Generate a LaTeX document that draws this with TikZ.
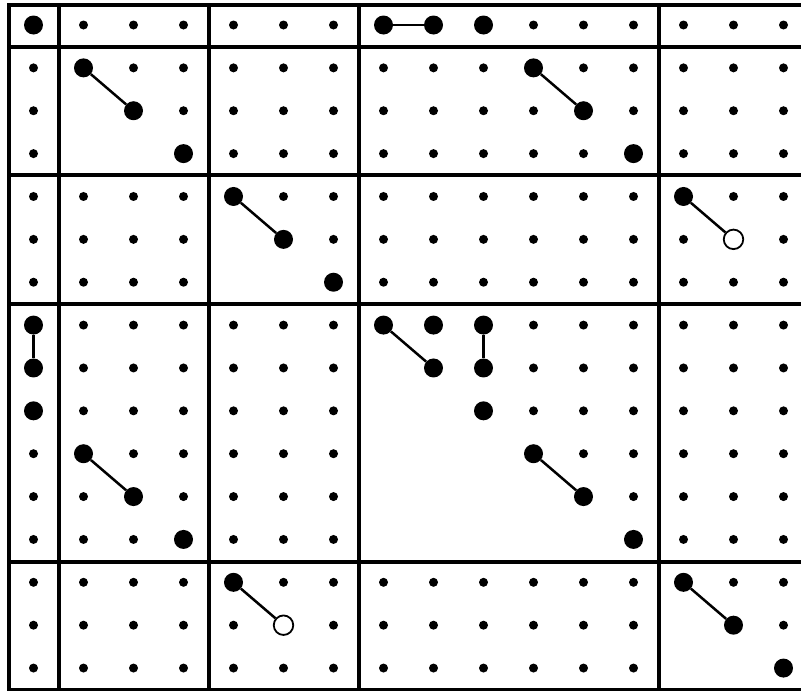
\documentclass[tikz,border=0pt]{standalone}
\begin{document}
\begin{tikzpicture}[x=1pt,y=-1pt,
  sepline/.style={line width=4pt},
  conn/.style={line width=2.5pt},
  dots/.style={circle,fill=black,inner sep=0pt,minimum size=9pt},
  dotB/.style={circle,fill=black,inner sep=0pt,minimum size=19pt},
  doto/.style={circle,fill=white,draw=black,line width=1.8pt,inner sep=0pt,minimum size=19.5pt},
  dote/.style={inner sep=0pt,minimum size=0pt}]
\useasboundingbox (0,0) rectangle (801,691);
\clip (0,0) rectangle (801,691);
% frame and block separators
\draw[sepline] (9,5) rectangle (830,689.5);
\foreach \xx in {58.5,208.5,358.5,658.5} \draw[sepline] (\xx,5) -- (\xx,689.5);
\foreach \yy in {46.6,175.3,304.2,561.5} \draw[sepline] (9,\yy) -- (830,\yy);
% dots
\foreach \row [count=\i from 0] in {
 {B,s,s,s,s,s,s,B,B,B,s,s,s,s,s,s},
 {s,B,s,s,s,s,s,s,s,s,B,s,s,s,s,s},
 {s,e,B,s,s,s,s,s,s,s,s,B,s,s,s,s},
 {s,e,e,B,s,s,s,s,s,s,s,s,B,s,s,s},
 {s,s,s,s,B,s,s,s,s,s,s,s,s,B,s,s},
 {s,s,s,s,e,B,s,s,s,s,s,s,s,s,o,s},
 {s,s,s,s,e,e,B,s,s,s,s,s,s,s,s,s},
 {B,s,s,s,s,s,s,B,B,B,s,s,s,s,s,s},
 {B,s,s,s,s,s,s,e,B,B,s,s,s,s,s,s},
 {B,s,s,s,s,s,s,e,e,B,s,s,s,s,s,s},
 {s,B,s,s,s,s,s,e,e,e,B,s,s,s,s,s},
 {s,s,B,s,s,s,s,e,e,e,e,B,s,s,s,s},
 {s,s,s,B,s,s,s,e,e,e,e,e,B,s,s,s},
 {s,s,s,s,B,s,s,s,s,s,s,s,s,B,s,s},
 {s,s,s,s,s,o,s,s,s,s,s,s,s,e,B,s},
 {s,s,s,s,s,s,s,s,s,s,s,s,s,e,e,B}} {
  \foreach \t [count=\j from 0] in \row {
    \node[dot\t] (n-\i-\j) at ({33.5+50*\j},{25+42.87*\i}) {};
  }
}
% connectors
\draw[conn] (n-0-7) -- (n-0-8);
\draw[conn] (n-1-1) -- (n-2-2);
\draw[conn] (n-1-10) -- (n-2-11);
\draw[conn] (n-4-4) -- (n-5-5);
\draw[conn] (n-4-13) -- (n-5-14);
\draw[conn] (n-7-0) -- (n-8-0);
\draw[conn] (n-7-7) -- (n-8-8);
\draw[conn] (n-7-9) -- (n-8-9);
\draw[conn] (n-10-1) -- (n-11-2);
\draw[conn] (n-10-10) -- (n-11-11);
\draw[conn] (n-13-4) -- (n-14-5);
\draw[conn] (n-13-13) -- (n-14-14);
\end{tikzpicture}
\end{document}
